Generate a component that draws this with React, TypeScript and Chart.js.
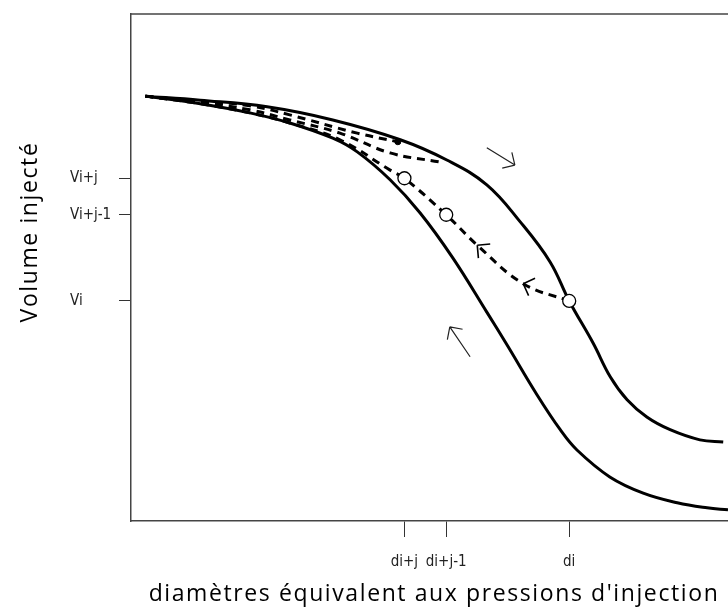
import React, { useEffect, useRef } from "react";
import { Chart, registerables } from "chart.js";

Chart.register(...registerables);

// Tick positions (arbitrary units 0..100) and their labels
const xTickValues = [45.8, 52.8, 73.4];
const xTickLabels = ["di+j", "di+j-1", "di"];
const yTickValues = [43.4, 60.4, 67.6];
const yTickLabels = ["Vi", "Vi+j-1", "Vi+j"];

// Main injection (upper/right) curve
const upperX = [2.4, 11.6, 22.8, 33.8, 45.1, 52.9, 59.6, 65.2, 70.2, 73.4, 77.4, 80.3, 83.1, 86.4, 90.3, 95.3, 99.2];
const upperY = [83.8, 83.0, 81.7, 79.1, 75.2, 71.2, 66.3, 59.0, 51.1, 43.4, 35.1, 28.4, 23.9, 20.5, 18.0, 16.0, 15.6];

// Withdrawal (lower/left) curve
const lowerX = [2.4, 11.6, 19.9, 26.6, 33.8, 37.9, 43.4, 48.4, 53.9, 59.6, 63.0, 68.0, 71.9, 74.7, 80.2, 85.8, 91.5, 96.5, 100];
const lowerY = [83.8, 82.3, 80.5, 78.5, 75.5, 72.8, 67.3, 60.8, 51.9, 41.2, 34.7, 24.9, 18.0, 14.0, 8.7, 5.5, 3.6, 2.6, 2.2];

// Scanning curves (dashed)
const scanAX = [2.4, 11.6, 19.9, 26.6, 37.9, 44.7];
const scanAY = [83.8, 82.8, 81.9, 80.1, 76.5, 74.8];
const scanBX = [2.4, 11.6, 19.9, 26.6, 35.0, 43.4, 51.8];
const scanBY = [83.8, 82.5, 81.1, 79.1, 76.5, 72.6, 70.8];
const scanCX = [2.4, 11.6, 19.9, 26.6, 35.0, 43.4, 45.8, 52.8, 58.0, 65.7, 73.4];
const scanCY = [83.8, 82.3, 80.5, 78.5, 75.2, 69.2, 67.6, 60.4, 54.4, 46.8, 43.4];

// Open circles (di, Vi) pairs
const circleX = [45.8, 52.8, 73.4];
const circleY = [67.6, 60.4, 43.4];

// Arrows
const flowArrowTails = [[59.6, 73.6], [56.8, 32.4]];
const flowArrowTips = [[64.3, 70.2], [53.4, 38.3]];
const pathArrowTails = [[65.7, 46.8], [73.4, 43.4]];
const pathArrowTips = [[58.0, 54.4], [65.7, 46.8]];

const xTitle = "diamètres équivalent aux pressions d'injection";
const yTitle = "Volume injecté";

const tickFont = { family: '"DejaVu Sans Condensed", "Liberation Sans Narrow", "DejaVu Sans", sans-serif', size: 15 };
const titleFont = '23px "Open Sans", "DejaVu Sans", sans-serif';

const pts = (xs: number[], ys: number[]) => xs.map((x, i) => ({ x, y: ys[i] }));

const decorPlugin = {
  id: "decor",
  afterDatasetsDraw(chart: any) {
    const { ctx, scales } = chart;
    const xs = scales.x, ys = scales.y;
    const px = (p: number[]) => [xs.getPixelForValue(p[0]), ys.getPixelForValue(p[1])];
    const barbs = (tip: number[], tail: number[], len: number) => {
      const ang = Math.atan2(tail[1] - tip[1], tail[0] - tip[0]);
      for (const d of [-Math.PI / 4, Math.PI / 4]) {
        ctx.moveTo(tip[0], tip[1]);
        ctx.lineTo(tip[0] + len * Math.cos(ang + d), tip[1] + len * Math.sin(ang + d));
      }
    };
    ctx.save();
    ctx.strokeStyle = "#222";
    ctx.lineWidth = 1.2;
    flowArrowTips.forEach((t, i) => {
      const tip = px(t), tail = px(flowArrowTails[i]);
      ctx.beginPath();
      ctx.moveTo(tail[0], tail[1]);
      ctx.lineTo(tip[0], tip[1]);
      barbs(tip, tail, 13);
      ctx.stroke();
    });
    ctx.lineWidth = 1.6;
    ctx.strokeStyle = "#000";
    pathArrowTips.forEach((t, i) => {
      const tip = px(t), tail = px(pathArrowTails[i]);
      ctx.beginPath();
      barbs(tip, tail, 13);
      ctx.stroke();
    });
    ctx.restore();
  },
  afterDraw(chart: any) {
    const { ctx, chartArea } = chart;
    ctx.save();
    ctx.strokeStyle = "#444";
    ctx.lineWidth = 1.5;
    ctx.beginPath();
    ctx.moveTo(chartArea.left, chartArea.top);
    ctx.lineTo(chartArea.right, chartArea.top);
    ctx.stroke();
    ctx.fillStyle = "#000";
    ctx.font = titleFont;
    (ctx as any).letterSpacing = "1.6px";
    ctx.textAlign = "center";
    ctx.textBaseline = "middle";
    ctx.fillText(xTitle, 434, 594);
    ctx.translate(30, 232);
    ctx.rotate(-Math.PI / 2);
    ctx.fillText(yTitle, 0, 0);
    ctx.restore();
  },
};

export default function App() {
  const ref = useRef<HTMLCanvasElement | null>(null);
  useEffect(() => {
    if (!ref.current) return;
    const solid = (data: any) => ({
      type: "line", data, borderColor: "#000", borderWidth: 3, pointRadius: 0, tension: 0.4, fill: false,
    });
    const dashed = (data: any) => ({
      type: "line", data, borderColor: "#000", borderWidth: 3, borderDash: [8, 6], pointRadius: 0,
      tension: 0.4, fill: false,
    });
    const chart = new Chart(ref.current, {
      type: "line",
      data: {
        datasets: [
          {
            type: "scatter", data: pts(circleX, circleY), pointRadius: 6.5, pointBackgroundColor: "#fff",
            pointBorderColor: "#000", pointBorderWidth: 1.3, showLine: false,
          } as any,
          {
            type: "scatter", data: [pts(scanAX, scanAY)[scanAX.length - 1]], pointRadius: 3,
            pointBackgroundColor: "#000", pointBorderColor: "#000", showLine: false,
          } as any,
          solid(pts(upperX, upperY)),
          solid(pts(lowerX, lowerY)),
          dashed(pts(scanAX, scanAY)),
          dashed(pts(scanBX, scanBY)),
          dashed(pts(scanCX, scanCY)),
        ] as any,
      },
      options: {
        animation: false,
        responsive: false,
        devicePixelRatio: 1,
        layout: { autoPadding: false, padding: { left: 70, top: 14, right: 0, bottom: 0 } },
        plugins: { legend: { display: false }, tooltip: { enabled: false } },
        scales: {
          x: {
            type: "linear", min: 0, max: 100,
            afterBuildTicks: (s: any) => { s.ticks = xTickValues.map((v) => ({ value: v })); },
            afterFit: (s: any) => { s.height = 89; s.paddingLeft = 0; s.paddingRight = 0; },
            ticks: {
              autoSkip: false, maxRotation: 0, minRotation: 0, padding: 16, color: "#222", font: tickFont,
              callback: (_v: any, i: number) => xTickLabels[i],
            },
            grid: { drawOnChartArea: false, tickLength: 16, color: "#333", lineWidth: 1 },
            border: { color: "#444", width: 1.5 },
          },
          y: {
            type: "linear", min: 0, max: 100,
            afterBuildTicks: (s: any) => { s.ticks = yTickValues.map((v) => ({ value: v })); },
            afterFit: (s: any) => { s.width = 61; s.paddingTop = 0; s.paddingBottom = 0; },
            ticks: {
              autoSkip: false, crossAlign: "far", color: "#222", font: tickFont,
              callback: (_v: any, i: number) => yTickLabels[i],
            },
            grid: { drawOnChartArea: false, tickLength: 12, color: "#333", lineWidth: 1 },
            border: { color: "#444", width: 1.5 },
          },
        },
      } as any,
      plugins: [decorPlugin],
    });
    return () => chart.destroy();
  }, []);
  return (
    <div style={{ position: "fixed", left: 0, top: 0, width: 728, height: 610, background: "#fff" }}>
      <canvas ref={ref} width={728} height={610} style={{ display: "block" }} />
    </div>
  );
}
